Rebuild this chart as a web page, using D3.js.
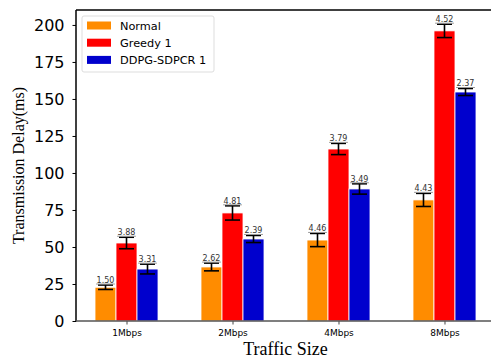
<!DOCTYPE html>
<html>
<head>
<meta charset="utf-8">
<script src="https://cdn.jsdelivr.net/npm/d3@7"></script>
<style>
  html, body { margin: 0; padding: 0; background: #fff; }
  svg { display: block; }
</style>
</head>
<body>
<svg id="chart" width="491" height="358"></svg>
<script>
// Traffic sizes on the x axis
const categories = ["1Mbps", "2Mbps", "4Mbps", "8Mbps"];
// Series names
const seriesNames = ["Normal", "Greedy 1", "DDPG-SDPCR 1"];
// Mean transmission delay (ms)
const normalValues = [22.8, 36.5, 54.7, 81.8];
const greedyValues = [52.7, 73.0, 116.2, 196.0];
const ddpgValues = [35.1, 55.4, 89.2, 154.7];
// Error bar half-widths, also printed above each bar
const normalErrors = [1.50, 2.62, 4.46, 4.43];
const greedyErrors = [3.88, 4.81, 3.79, 4.52];
const ddpgErrors = [3.31, 2.39, 3.49, 2.37];
// Y tick values
const yTicks = [0, 25, 50, 75, 100, 125, 150, 175, 200];

const colors = ["#FF8C00", "#FF0000", "#0000CD"];
const values = [normalValues, greedyValues, ddpgValues];
const errors = [normalErrors, greedyErrors, ddpgErrors];

const svg = d3.select("#chart");
const plot = { left: 76, right: 495, top: 10, bottom: 321 };

const x = d3.scalePoint().domain(categories)
  .range([plot.left, plot.right]).padding(0.4765);
const barW = 21;
const xInner = d3.scaleBand().domain(seriesNames)
  .range([-1.5 * barW, 1.5 * barW]).paddingInner(0);
const y = d3.scaleLinear().domain([0, 210.1]).range([plot.bottom, plot.top]);

// flatten into one record per bar
const bars = [];
seriesNames.forEach((s, si) => {
  categories.forEach((c, ci) => {
    bars.push({ series: s, si, cat: c, v: values[si][ci], e: errors[si][ci] });
  });
});

// bars
svg.append("g").selectAll("rect").data(bars).join("rect")
  .attr("x", d => x(d.cat) + xInner(d.series))
  .attr("y", d => y(d.v))
  .attr("width", xInner.bandwidth())
  .attr("height", d => y(0) - y(d.v))
  .attr("fill", d => colors[d.si])
  .attr("stroke", "#fff")
  .attr("stroke-width", 0.8);

// error bars
const eb = svg.append("g").attr("stroke", "#000").attr("stroke-width", 1.6);
const cap = 7.5;
bars.forEach(d => {
  const cx = x(d.cat) + xInner(d.series) + xInner.bandwidth() / 2;
  eb.append("line").attr("x1", cx).attr("x2", cx)
    .attr("y1", y(d.v - d.e)).attr("y2", y(d.v + d.e));
  eb.append("line").attr("x1", cx - cap).attr("x2", cx + cap)
    .attr("y1", y(d.v + d.e)).attr("y2", y(d.v + d.e));
  eb.append("line").attr("x1", cx - cap).attr("x2", cx + cap)
    .attr("y1", y(d.v - d.e)).attr("y2", y(d.v - d.e));
});

// value labels above the error bars
const lbl = svg.append("g");
bars.forEach(d => {
  const cx = x(d.cat) + xInner(d.series) + xInner.bandwidth() / 2;
  const by = y(d.v + d.e) - 2;
  const t = lbl.append("text")
    .attr("x", cx).attr("y", by)
    .attr("text-anchor", "middle")
    .attr("font-family", "DejaVu Sans")
    .attr("font-size", 8)
    .attr("fill", "#333")
    .text(d.e.toFixed(2));
  const w = t.node().getComputedTextLength();
  lbl.append("line")
    .attr("x1", cx - w / 2 - 0.5).attr("x2", cx + w / 2 + 0.5)
    .attr("y1", by + 1).attr("y2", by + 1)
    .attr("stroke", "#999").attr("stroke-width", 1);
});

// axes
const yAxis = svg.append("g")
  .attr("transform", `translate(${plot.left},0)`)
  .call(d3.axisLeft(y).tickValues(yTicks).tickSize(3.5).tickPadding(8));
yAxis.select(".domain").remove();
yAxis.selectAll("text").attr("font-family", "DejaVu Sans").attr("font-size", 16).attr("fill", "#000");
yAxis.selectAll("line").attr("stroke", "#000").attr("stroke-width", 1);

const xAxis = svg.append("g")
  .attr("transform", `translate(0,${plot.bottom})`)
  .call(d3.axisBottom(x).tickSize(3.5).tickPadding(5));
xAxis.select(".domain").remove();
xAxis.selectAll("text").attr("font-family", "DejaVu Sans").attr("font-size", 9).attr("fill", "#000");
xAxis.selectAll("line").attr("stroke", "#444").attr("stroke-width", 1);

// spines
svg.append("line").attr("x1", plot.left).attr("x2", plot.left)
  .attr("y1", plot.top).attr("y2", plot.bottom + 0.5)
  .attr("stroke", "#000").attr("stroke-width", 1.5);
svg.append("line").attr("x1", plot.left).attr("x2", plot.right)
  .attr("y1", plot.top).attr("y2", plot.top)
  .attr("stroke", "#000").attr("stroke-width", 1.5);
svg.append("line").attr("x1", plot.left).attr("x2", plot.right)
  .attr("y1", plot.bottom).attr("y2", plot.bottom)
  .attr("stroke", "#555").attr("stroke-width", 1.5);

// axis titles
svg.append("text")
  .attr("x", (plot.left + plot.right) / 2).attr("y", 355)
  .attr("text-anchor", "middle")
  .attr("font-family", "Liberation Serif").attr("font-size", 18)
  .text("Traffic Size");
svg.append("text")
  .attr("transform", `translate(24,${(plot.top + plot.bottom) / 2}) rotate(-90)`)
  .attr("text-anchor", "middle")
  .attr("font-family", "Liberation Serif").attr("font-size", 16)
  .text("Transmission Delay(ms)");

// legend
const lg = svg.append("g").attr("transform", "translate(82,16)");
lg.append("rect").attr("width", 132).attr("height", 56).attr("rx", 2)
  .attr("fill", "#fff").attr("fill-opacity", 0.8)
  .attr("stroke", "#ddd").attr("stroke-width", 1);
seriesNames.forEach((s, i) => {
  const row = lg.append("g").attr("transform", `translate(0,${9.5 + i * 17.2})`);
  row.append("rect").attr("x", 5).attr("y", -4).attr("width", 24).attr("height", 8)
    .attr("fill", colors[i]);
  row.append("text").attr("x", 38).attr("y", 4)
    .attr("font-family", "DejaVu Sans").attr("font-size", 11.3)
    .attr("fill", "#000").text(s);
});
</script>
</body>
</html>
